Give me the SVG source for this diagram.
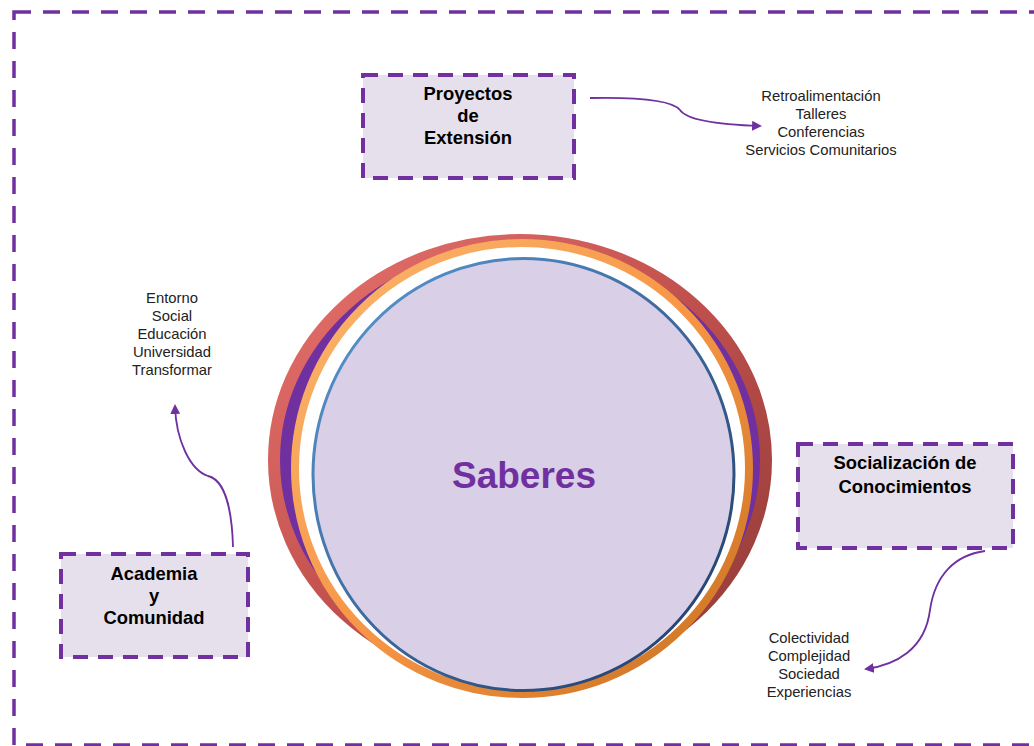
<svg xmlns="http://www.w3.org/2000/svg" width="1034" height="746" viewBox="0 0 1034 746">
<defs>
<style>
.box{fill:#E6E0EC;stroke:#7030A0;stroke-width:4;stroke-dasharray:15 10}
.outer{fill:none;stroke:#7030A0;stroke-width:3.5;stroke-dasharray:17 12}
.t{font-family:"Liberation Sans",Arial,sans-serif;font-weight:bold;font-size:18.4px;fill:#000;text-anchor:middle}
.l{font-family:"Liberation Sans",Arial,sans-serif;font-size:14.8px;fill:#222;text-anchor:middle}
.c{fill:none;stroke:#7030A0;stroke-width:1.8}
</style>
<linearGradient id="red" x1="0" y1="0" x2="1" y2="1">
<stop offset="0" stop-color="#E8736E"/><stop offset="0.5" stop-color="#C0504D"/><stop offset="1" stop-color="#8E3A37"/>
</linearGradient>
<linearGradient id="org" x1="0" y1="0" x2="1" y2="1">
<stop offset="0" stop-color="#FAB870"/><stop offset="0.5" stop-color="#F79646"/><stop offset="1" stop-color="#C8701F"/>
</linearGradient>
<linearGradient id="blu" x1="0" y1="0" x2="1" y2="1">
<stop offset="0" stop-color="#5B9BD5"/><stop offset="1" stop-color="#1F3864"/>
</linearGradient>
<marker id="ah" viewBox="0 0 10 10" refX="8" refY="5" markerWidth="5.5" markerHeight="5.5" orient="auto-start-reverse">
<path d="M0,0 L10,5 L0,10 z" fill="#7030A0"/>
</marker>
</defs>
<rect x="14" y="12" width="1040" height="733" class="outer"/>
<g id="saberes">
<ellipse cx="520" cy="460" rx="246" ry="220" fill="#7030A0" stroke="url(#red)" stroke-width="12"/>
<ellipse cx="522" cy="468.5" rx="227" ry="225.5" fill="#FFFFFF" stroke="url(#org)" stroke-width="8"/>
<ellipse cx="523.5" cy="474.5" rx="210.5" ry="216" fill="#D9CFE6" stroke="url(#blu)" stroke-width="3"/>
<text x="524" y="488" font-family="'Liberation Sans',Arial,sans-serif" font-weight="bold" font-size="37" fill="#7030A0" text-anchor="middle">Saberes</text>
</g>
<g id="proyectos">
<rect x="363" y="75" width="211" height="103" class="box"/>
<text class="t" x="468" y="100">Proyectos</text>
<text class="t" x="468" y="122">de</text>
<text class="t" x="468" y="144">Extensión</text>
</g>
<g id="academia">
<rect x="61" y="554" width="187" height="103" class="box"/>
<text class="t" x="154" y="580">Academia</text>
<text class="t" x="154" y="602">y</text>
<text class="t" x="154" y="624">Comunidad</text>
</g>
<g id="socializacion">
<rect x="798" y="444" width="215" height="104" class="box"/>
<text class="t" x="905" y="469">Socialización de</text>
<text class="t" x="905" y="493">Conocimientos</text>
</g>
<g id="lista-proyectos">
<text class="l" x="821" y="101">Retroalimentación</text>
<text class="l" x="821" y="119">Talleres</text>
<text class="l" x="821" y="137">Conferencias</text>
<text class="l" x="821" y="155">Servicios Comunitarios</text>
</g>
<g id="lista-academia">
<text class="l" x="172" y="303">Entorno</text>
<text class="l" x="172" y="321">Social</text>
<text class="l" x="172" y="339">Educación</text>
<text class="l" x="172" y="357">Universidad</text>
<text class="l" x="172" y="375">Transformar</text>
</g>
<g id="lista-socializacion">
<text class="l" x="809" y="643">Colectividad</text>
<text class="l" x="809" y="661">Complejidad</text>
<text class="l" x="809" y="679">Sociedad</text>
<text class="l" x="809" y="697">Experiencias</text>
</g>
<g id="connectors">
<path class="c" marker-end="url(#ah)" d="M590,98 C640,97 672,100 680,110 C688,122 730,125 760,126"/>
<path class="c" marker-end="url(#ah)" d="M233,547 C232,510 225,480 208,476 C190,470 176,440 175,406"/>
<path class="c" marker-end="url(#ah)" d="M985,551 C955,555 935,575 930,610 C925,650 895,665 866,669"/>
</g>
</svg>
